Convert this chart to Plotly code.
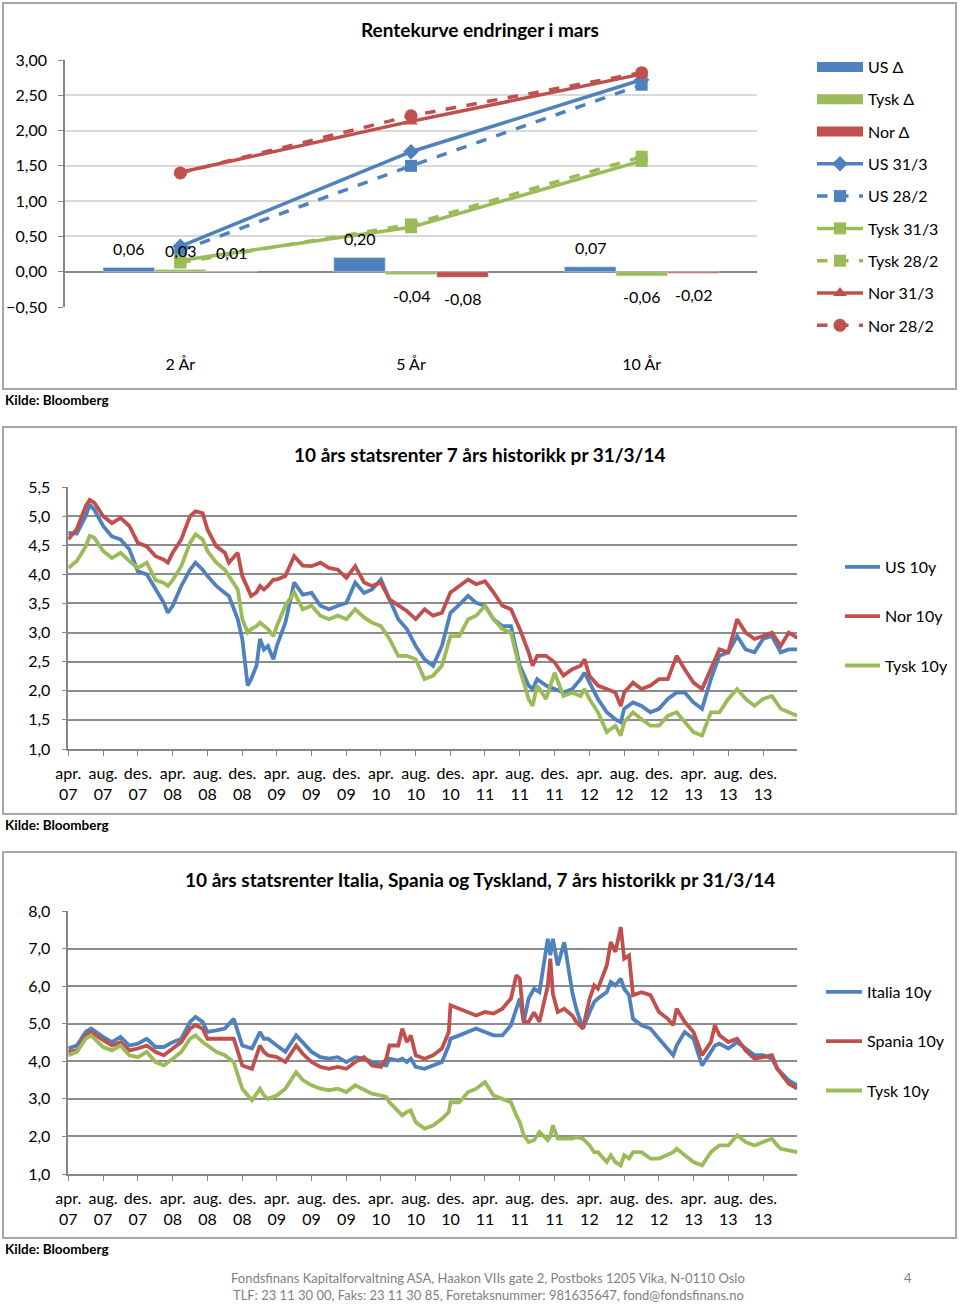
import plotly.graph_objects as go

W, H = 960, 1304
FONT = "Lato"

# ---------------- Chart 1: Rentekurve endringer i mars ----------------
tenors = ["2 År", "5 År", "10 År"]
us_delta = [0.06, 0.20, 0.07]
tysk_delta = [0.03, -0.04, -0.06]
nor_delta = [0.01, -0.08, -0.02]
us_31_3 = [0.36, 1.70, 2.72]
us_28_2 = [0.30, 1.50, 2.65]
tysk_31_3 = [0.16, 0.63, 1.57]
tysk_28_2 = [0.13, 0.67, 1.63]
nor_31_3 = [1.41, 2.13, 2.80]
nor_28_2 = [1.40, 2.21, 2.82]

# ---------------- Chart 2: US / Nor / Tysk 10y ----------------
dates2 = ["2007-04-01", "2007-05-01", "2007-06-01", "2007-06-15", "2007-07-01", "2007-08-01",
          "2007-09-01", "2007-10-01", "2007-11-01", "2007-12-01", "2008-01-01", "2008-02-01",
          "2008-03-01", "2008-03-15", "2008-04-01", "2008-05-01", "2008-06-01", "2008-06-20",
          "2008-07-15", "2008-08-01", "2008-09-01", "2008-10-01", "2008-10-15", "2008-11-15",
          "2008-12-01", "2008-12-20", "2009-01-01", "2009-01-20", "2009-02-01", "2009-02-15",
          "2009-03-01", "2009-03-20", "2009-04-01", "2009-05-01", "2009-06-01", "2009-07-01",
          "2009-08-01", "2009-09-01", "2009-10-01", "2009-11-01", "2009-12-01", "2010-01-01",
          "2010-02-01", "2010-03-01", "2010-04-01", "2010-05-01", "2010-06-01", "2010-07-01",
          "2010-08-01", "2010-09-01", "2010-10-01", "2010-11-01", "2010-12-01", "2011-01-01",
          "2011-02-01", "2011-03-01", "2011-04-01", "2011-05-01", "2011-06-01", "2011-07-01",
          "2011-08-01", "2011-09-01", "2011-09-15", "2011-10-01", "2011-11-01", "2011-12-01",
          "2012-01-01", "2012-02-01", "2012-03-01", "2012-03-15", "2012-04-01", "2012-05-01",
          "2012-06-01", "2012-07-01", "2012-07-20", "2012-08-01", "2012-09-01", "2012-10-01",
          "2012-11-01", "2012-12-01", "2013-01-01", "2013-02-01", "2013-03-01", "2013-04-01",
          "2013-05-01", "2013-06-01", "2013-07-01", "2013-08-01", "2013-09-01", "2013-10-01",
          "2013-11-01", "2013-12-01", "2014-01-01", "2014-02-01", "2014-03-01", "2014-03-31"]
us_10y = [4.71, 4.70, 5.00, 5.20, 5.11, 4.83, 4.65, 4.60, 4.43, 4.05, 4.00, 3.74,
          3.51, 3.34, 3.46, 3.80, 4.08, 4.20, 4.08, 3.97, 3.80, 3.68, 3.63, 3.23,
          2.89, 2.09, 2.20, 2.43, 2.89, 2.71, 2.77, 2.54, 2.77, 3.17, 3.86, 3.65,
          3.68, 3.46, 3.40, 3.46, 3.51, 3.86, 3.68, 3.74, 3.91, 3.57, 3.23, 3.06,
          2.77, 2.54, 2.43, 2.77, 3.34, 3.48, 3.63, 3.51, 3.46, 3.23, 3.11, 3.11,
          2.43, 2.09, 2.03, 2.20, 2.09, 2.03, 1.97, 2.03, 2.20, 2.31, 2.14, 1.86,
          1.63, 1.51, 1.46, 1.69, 1.80, 1.74, 1.63, 1.69, 1.86, 1.97, 1.97, 1.80,
          1.69, 2.20, 2.60, 2.66, 2.94, 2.71, 2.66, 2.89, 2.94, 2.66, 2.71, 2.71]
nor_10y = [4.60, 4.78, 5.17, 5.28, 5.23, 5.00, 4.88, 4.97, 4.83, 4.54, 4.48, 4.31,
           4.25, 4.20, 4.37, 4.60, 5.00, 5.08, 5.05, 4.77, 4.48, 4.37, 4.20, 4.37,
           3.97, 3.74, 3.63, 3.69, 3.80, 3.74, 3.80, 3.91, 3.91, 3.97, 4.31, 4.15,
           4.14, 4.20, 4.11, 4.08, 3.94, 4.14, 3.86, 3.80, 3.86, 3.57, 3.46, 3.37,
           3.23, 3.40, 3.29, 3.34, 3.69, 3.80, 3.91, 3.83, 3.88, 3.69, 3.46, 3.40,
           3.06, 2.66, 2.43, 2.60, 2.60, 2.49, 2.26, 2.37, 2.43, 2.54, 2.26, 2.09,
           2.03, 1.97, 1.74, 1.97, 2.14, 2.03, 2.09, 2.20, 2.20, 2.60, 2.37, 2.14,
           2.03, 2.37, 2.71, 2.66, 3.23, 3.00, 2.89, 2.94, 3.00, 2.77, 3.00, 2.91]
tysk_10y = [4.11, 4.23, 4.48, 4.66, 4.63, 4.40, 4.28, 4.37, 4.23, 4.11, 4.20, 3.90,
            3.85, 3.80, 3.90, 4.14, 4.54, 4.69, 4.60, 4.40, 4.20, 4.08, 3.97, 3.74,
            3.23, 3.00, 3.06, 3.11, 3.17, 3.11, 3.06, 2.94, 3.11, 3.46, 3.69, 3.40,
            3.46, 3.29, 3.23, 3.29, 3.23, 3.40, 3.26, 3.17, 3.11, 2.89, 2.60, 2.60,
            2.54, 2.20, 2.26, 2.43, 2.94, 2.94, 3.23, 3.29, 3.46, 3.23, 3.06, 3.00,
            2.37, 1.86, 1.74, 2.09, 1.86, 2.31, 1.91, 1.97, 1.91, 2.03, 1.86, 1.63,
            1.29, 1.40, 1.23, 1.46, 1.63, 1.51, 1.40, 1.40, 1.57, 1.63, 1.46, 1.29,
            1.23, 1.63, 1.63, 1.86, 2.03, 1.86, 1.74, 1.86, 1.91, 1.69, 1.63, 1.57]

# ---------------- Chart 3: Italia / Spania / Tysk 10y ----------------
dates3 = ["2007-04-01", "2007-05-01", "2007-06-01", "2007-06-20", "2007-08-01", "2007-09-01",
          "2007-10-01", "2007-11-01", "2007-12-01", "2008-01-01", "2008-02-01", "2008-03-01",
          "2008-04-01", "2008-05-01", "2008-06-01", "2008-06-20", "2008-07-15", "2008-08-01",
          "2008-09-01", "2008-10-01", "2008-11-01", "2008-12-01", "2009-01-04", "2009-02-01",
          "2009-02-15", "2009-03-01", "2009-04-01", "2009-05-01", "2009-06-08", "2009-07-01",
          "2009-08-01", "2009-09-01", "2009-10-01", "2009-11-01", "2009-12-01", "2010-01-01",
          "2010-02-01", "2010-03-01", "2010-04-01", "2010-04-20", "2010-05-01", "2010-06-01",
          "2010-06-15", "2010-07-01", "2010-07-15", "2010-08-01", "2010-09-01", "2010-10-01",
          "2010-11-01", "2010-11-25", "2010-12-01", "2011-01-01", "2011-02-01", "2011-03-01",
          "2011-04-01", "2011-05-01", "2011-06-01", "2011-07-01", "2011-07-20", "2011-08-01",
          "2011-08-15", "2011-09-01", "2011-09-20", "2011-10-09", "2011-11-07", "2011-11-16",
          "2011-11-25", "2011-12-12", "2012-01-04", "2012-02-01", "2012-02-15", "2012-03-09",
          "2012-04-02", "2012-04-18", "2012-05-01", "2012-06-01", "2012-06-15", "2012-07-01",
          "2012-07-20", "2012-08-01", "2012-08-18", "2012-09-01", "2012-10-01", "2012-11-01",
          "2012-12-01", "2013-01-01", "2013-01-20", "2013-02-01", "2013-03-01", "2013-04-01",
          "2013-05-01", "2013-06-01", "2013-06-15", "2013-07-01", "2013-08-01", "2013-09-01",
          "2013-10-01", "2013-11-01", "2013-12-01", "2014-01-01", "2014-01-20", "2014-02-01",
          "2014-03-01", "2014-03-31"]
italia_10y = [4.34, 4.42, 4.78, 4.87, 4.65, 4.51, 4.65, 4.42, 4.47, 4.60, 4.38, 4.38,
              4.51, 4.60, 5.05, 5.18, 5.05, 4.78, 4.82, 4.87, 5.13, 4.42, 4.34, 4.78,
              4.60, 4.60, 4.42, 4.25, 4.69, 4.51, 4.25, 4.11, 4.07, 4.11, 3.98, 4.11,
              4.07, 3.98, 3.94, 3.89, 4.07, 4.02, 4.07, 3.98, 4.07, 3.85, 3.80, 3.89,
              3.98, 4.42, 4.60, 4.69, 4.78, 4.87, 4.78, 4.69, 4.69, 4.96, 5.40, 5.67,
              5.05, 5.67, 5.93, 5.84, 7.26, 6.82, 7.26, 6.55, 7.17, 5.84, 5.40, 4.87,
              5.31, 5.58, 5.67, 5.84, 6.11, 6.02, 6.20, 5.93, 5.76, 5.13, 4.96, 4.87,
              4.60, 4.34, 4.16, 4.42, 4.78, 4.60, 3.89, 4.25, 4.42, 4.47, 4.34, 4.51,
              4.34, 4.16, 4.16, 4.07, 3.80, 3.71, 3.49, 3.36]
spania_10y = [4.25, 4.29, 4.69, 4.78, 4.56, 4.42, 4.51, 4.29, 4.34, 4.42, 4.25, 4.16,
              4.34, 4.51, 4.87, 4.96, 4.87, 4.60, 4.60, 4.60, 4.60, 3.89, 3.80, 4.42,
              4.25, 4.16, 4.11, 3.98, 4.42, 4.20, 3.98, 3.85, 3.80, 3.85, 3.80, 3.98,
              4.11, 3.89, 3.85, 4.07, 4.42, 4.42, 4.87, 4.51, 4.69, 4.16, 4.07, 4.16,
              4.34, 4.78, 5.49, 5.40, 5.31, 5.22, 5.31, 5.27, 5.40, 5.67, 6.29, 6.20,
              5.05, 5.05, 5.30, 5.05, 6.00, 6.73, 5.80, 5.31, 5.40, 5.22, 5.05, 4.87,
              5.67, 6.02, 5.93, 6.55, 7.17, 6.91, 7.57, 6.73, 6.82, 5.76, 5.84, 5.76,
              5.31, 5.13, 4.96, 5.40, 5.05, 4.78, 4.16, 4.51, 4.96, 4.69, 4.51, 4.60,
              4.29, 4.07, 4.11, 4.16, 3.80, 3.67, 3.40, 3.27]
tysk_10y_b = [4.16, 4.25, 4.60, 4.69, 4.38, 4.29, 4.42, 4.16, 4.11, 4.25, 3.98, 3.89,
              4.07, 4.25, 4.60, 4.69, 4.51, 4.42, 4.25, 4.16, 3.98, 3.27, 2.96, 3.27,
              3.09, 3.00, 3.09, 3.27, 3.71, 3.50, 3.36, 3.27, 3.23, 3.27, 3.18, 3.36,
              3.23, 3.14, 3.09, 3.05, 2.91, 2.65, 2.56, 2.65, 2.69, 2.38, 2.21, 2.29,
              2.47, 2.65, 2.91, 2.91, 3.18, 3.27, 3.45, 3.09, 3.00, 2.91, 2.56, 2.38,
              2.03, 1.85, 1.90, 2.12, 1.90, 2.00, 2.29, 1.94, 1.94, 1.94, 1.98, 1.94,
              1.76, 1.58, 1.58, 1.32, 1.50, 1.32, 1.23, 1.50, 1.41, 1.58, 1.58, 1.41,
              1.41, 1.50, 1.58, 1.67, 1.50, 1.32, 1.23, 1.58, 1.67, 1.76, 1.76, 2.03,
              1.85, 1.76, 1.85, 1.94, 1.76, 1.67, 1.63, 1.58]

# shared date tick labels
tick_dates = ["2007-04-01", "2007-08-01", "2007-12-01", "2008-04-01", "2008-08-01", "2008-12-01",
              "2009-04-01", "2009-08-01", "2009-12-01", "2010-04-01", "2010-08-01", "2010-12-01",
              "2011-04-01", "2011-08-01", "2011-12-01", "2012-04-01", "2012-08-01", "2012-12-01",
              "2013-04-01", "2013-08-01", "2013-12-01"]
tick_text = ["apr.<br>07", "aug.<br>07", "des.<br>07", "apr.<br>08", "aug.<br>08", "des.<br>08",
             "apr.<br>09", "aug.<br>09", "des.<br>09", "apr.<br>10", "aug.<br>10", "des.<br>10",
             "apr.<br>11", "aug.<br>11", "des.<br>11", "apr.<br>12", "aug.<br>12", "des.<br>12",
             "apr.<br>13", "aug.<br>13", "des.<br>13"]

BLUE, GREEN, RED = "#4F81BD", "#9BBB59", "#C0504D"
GRID_LIGHT, GRID_DARK, AXIS = "#D9D9D9", "#8C8C8C", "#868686"


def px_x(p):
    return p / W


def px_y(p):
    return 1 - p / H


fig = go.Figure()

# ---- chart 1 bars (legend entries drawn as wide swatches) ----
bar_specs = [("US Δ", us_delta, BLUE), ("Tysk Δ", tysk_delta, GREEN), ("Nor Δ", nor_delta, RED)]
for name, vals, col in bar_specs:
    fig.add_trace(go.Scatter(x=[None], y=[None], name=name, mode="lines",
                             line=dict(color=col, width=14), xaxis="x", yaxis="y",
                             legend="legend", legendgroup=name, hoverinfo="skip"))
for name, vals, col in bar_specs:
    fig.add_trace(go.Bar(x=tenors, y=vals, name=name, marker_color=col, xaxis="x", yaxis="y",
                         legend="legend", legendgroup=name, showlegend=False))

# ---- chart 1 lines ----
line_specs = [
    ("US 31/3", us_31_3, BLUE, "solid", "diamond", 12),
    ("US 28/2", us_28_2, BLUE, "dash", "square", 12),
    ("Tysk 31/3", tysk_31_3, GREEN, "solid", "square", 12),
    ("Tysk 28/2", tysk_28_2, GREEN, "dash", "square", 12),
    ("Nor 31/3", nor_31_3, RED, "solid", "triangle-up", 12),
    ("Nor 28/2", nor_28_2, RED, "dash", "circle", 13),
]
for name, vals, col, dash, sym, size in line_specs:
    fig.add_trace(go.Scatter(x=tenors, y=vals, name=name, mode="lines+markers",
                             line=dict(color=col, width=3.5, dash=dash),
                             marker=dict(symbol=sym, size=size, color=col),
                             xaxis="x", yaxis="y", legend="legend", legendgroup=name))

# ---- chart 2 ----
for name, vals, col in [("US 10y", us_10y, BLUE), ("Nor 10y", nor_10y, RED), ("Tysk 10y", tysk_10y, GREEN)]:
    fig.add_trace(go.Scatter(x=dates2, y=vals, name=name, mode="lines",
                             line=dict(color=col, width=3.8),
                             xaxis="x2", yaxis="y2", legend="legend2", legendgroup=name + "2"))

# ---- chart 3 ----
for name, vals, col in [("Italia 10y", italia_10y, BLUE), ("Spania 10y", spania_10y, RED),
                        ("Tysk 10y", tysk_10y_b, GREEN)]:
    fig.add_trace(go.Scatter(x=dates3, y=vals, name=name, mode="lines",
                             line=dict(color=col, width=3.8),
                             xaxis="x3", yaxis="y3", legend="legend3", legendgroup=name + "3"))

annotations = []
# data labels for chart 1 bars
bar_w_px = (757 - 65) / 3 * (1 - 0.33) / 3
for k, (name, vals, col) in enumerate(bar_specs):
    for cat, v in zip(tenors, vals):
        annotations.append(dict(x=cat, y=v, xref="x", yref="y", text=f"{v:.2f}".replace(".", ","),
                                showarrow=False, xshift=(k - 1) * bar_w_px,
                                yshift=19 if v >= 0 else -21,
                                font=dict(size=16, color="black", family=FONT)))

# titles
for text, y in [("Rentekurve endringer i mars", 30), ("10 års statsrenter 7 års historikk pr 31/3/14", 454),
                ("10 års statsrenter Italia, Spania og Tyskland, 7 års historikk pr 31/3/14", 879)]:
    annotations.append(dict(x=px_x(480), y=px_y(y), xref="paper", yref="paper", text=f"<b>{text}</b>",
                            showarrow=False, xanchor="center", yanchor="middle",
                            font=dict(size=19, color="black", family=FONT)))
# sources
for y in [400, 825, 1249]:
    annotations.append(dict(x=px_x(3), y=px_y(y), xref="paper", yref="paper", text="<b>Kilde: Bloomberg</b>",
                            showarrow=False, xanchor="left", yanchor="middle",
                            font=dict(size=13.5, color="black", family=FONT)))
# footer
annotations.append(dict(x=px_x(488), y=px_y(1278), xref="paper", yref="paper",
                        text="Fondsfinans Kapitalforvaltning ASA, Haakon VIIs gate 2, Postboks 1205 Vika, N-0110 Oslo",
                        showarrow=False, xanchor="center", yanchor="middle",
                        font=dict(size=13, color="#7F7F7F", family=FONT)))
annotations.append(dict(x=px_x(488), y=px_y(1295), xref="paper", yref="paper",
                        text="TLF: 23 11 30 00, Faks: 23 11 30 85, Foretaksnummer: 981635647, fond@fondsfinans.no",
                        showarrow=False, xanchor="center", yanchor="middle",
                        font=dict(size=13, color="#7F7F7F", family=FONT)))
annotations.append(dict(x=px_x(908), y=px_y(1278), xref="paper", yref="paper", text="4",
                        showarrow=False, xanchor="center", yanchor="middle",
                        font=dict(size=13, color="#7F7F7F", family=FONT)))

shapes = []
for top, bot in [(3, 389), (427, 814), (852, 1238)]:
    shapes.append(dict(type="rect", xref="paper", yref="paper", x0=px_x(3), x1=px_x(956),
                       y0=px_y(bot), y1=px_y(top), line=dict(color="#A6A6A6", width=2),
                       fillcolor="rgba(0,0,0,0)"))

tickfont = dict(size=16, color="black", family=FONT)

date_xaxis = dict(type="date", range=["2007-04-01", "2014-03-31"], tickmode="array",
                  tickvals=tick_dates, ticktext=tick_text, ticks="outside", ticklen=5,
                  tickcolor=AXIS, showline=True, linecolor=AXIS, linewidth=1.5,
                  showgrid=False, zeroline=False, tickfont=tickfont, ticklabelstandoff=4,
                  automargin=False)

legend_common = dict(font=dict(size=16, color="black", family=FONT), bgcolor="rgba(0,0,0,0)",
                     xanchor="left", yanchor="top", orientation="v",
                     itemclick=False, itemdoubleclick=False)

fig.update_layout(
    width=W, height=H, autosize=False,
    margin=dict(l=0, r=0, t=0, b=0, pad=0, autoexpand=False),
    paper_bgcolor="white", plot_bgcolor="white",
    separators=", ",
    font=dict(family=FONT, color="black"),
    barmode="group", bargap=0.33, bargroupgap=0,
    xaxis=dict(domain=[px_x(65), px_x(757)], anchor="y", type="category", range=[-0.5, 2.5],
               showgrid=False, showline=False, zeroline=False, ticks="", tickfont=tickfont,
               ticklabelstandoff=46, automargin=False),
    yaxis=dict(domain=[px_y(307), px_y(60)], anchor="x", range=[-0.5, 3.0], dtick=0.5,
               tickformat=".2f", gridcolor=GRID_LIGHT, gridwidth=1.5, zeroline=True,
               zerolinecolor=AXIS, zerolinewidth=1.5, showline=True, linecolor=AXIS,
               linewidth=1.5, ticks="outside", ticklen=5, tickcolor=AXIS, tickfont=tickfont,
               ticklabelstandoff=8, automargin=False),
    xaxis2=dict(domain=[px_x(68.3), px_x(797.3)], anchor="y2", **date_xaxis),
    yaxis2=dict(domain=[px_y(749), px_y(487)], anchor="x2", range=[1.0, 5.5], dtick=0.5,
                tickformat=".1f", gridcolor=GRID_DARK, gridwidth=1.5, zeroline=False,
                showline=True, linecolor=AXIS, linewidth=1.5, ticks="outside", ticklen=5,
                tickcolor=AXIS, tickfont=tickfont, ticklabelstandoff=8, automargin=False),
    xaxis3=dict(domain=[px_x(68.3), px_x(797.3)], anchor="y3", **date_xaxis),
    yaxis3=dict(domain=[px_y(1174), px_y(911)], anchor="x3", range=[1.0, 8.0], dtick=1,
                tickformat=".1f", gridcolor=GRID_DARK, gridwidth=1.5, zeroline=False,
                showline=True, linecolor=AXIS, linewidth=1.5, ticks="outside", ticklen=5,
                tickcolor=AXIS, tickfont=tickfont, ticklabelstandoff=8, automargin=False),
    legend=dict(x=px_x(812), y=px_y(50), tracegroupgap=8.5, itemwidth=46, **legend_common),
    legend2=dict(x=px_x(840), y=px_y(550), tracegroupgap=25.5, itemwidth=35, **legend_common),
    legend3=dict(x=px_x(821), y=px_y(975), tracegroupgap=25.5, itemwidth=36, **legend_common),
    annotations=annotations,
    shapes=shapes,
    showlegend=True,
)

fig.write_html("out.html", config={"displayModeBar": False},
               post_script="document.body.style.margin='0px';document.body.style.overflow='hidden';")
